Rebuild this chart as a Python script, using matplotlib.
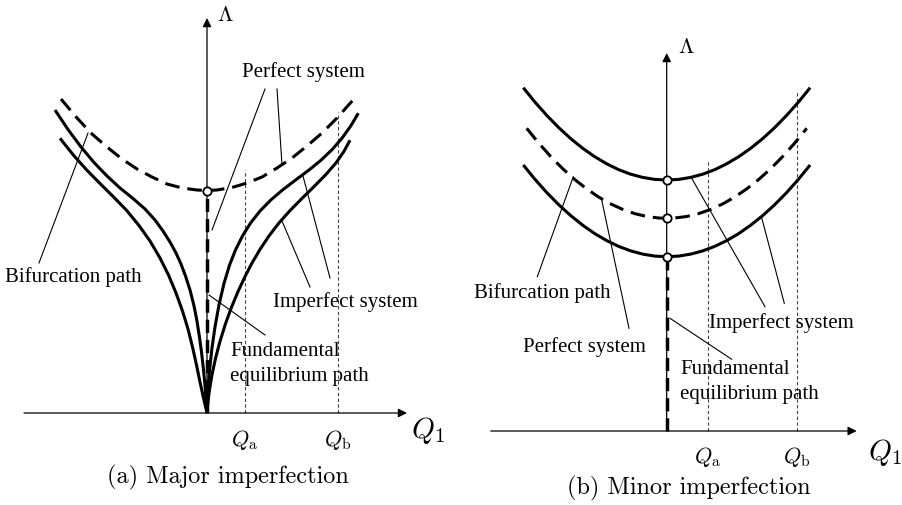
import matplotlib
matplotlib.use("Agg")
import matplotlib.pyplot as plt

# ---------------- Panel (a): major imperfection ----------------
# Perfect system bifurcation path (Q1, Lambda)
a_perfect_q = [-146, -130, -115, -100, -85, -70, -55, -40, -25, -10, 0,
               10, 25, 40, 55, 70, 85, 100, 115, 130, 146]
a_perfect_l = [314, 295, 279, 266, 254, 244, 236, 229, 225, 223, 222.5,
               223, 225.5, 230, 236, 245, 255, 267, 280, 295, 313]
a_critical = 222.5

# Imperfect system, upper branch pair
a_imp1_left_q = [-152, -139, -126, -113, -100, -87, -74, -62, -52, -44, -37, -31, -26,
                 -21.5, -17, -13.2, -10.2, -7.7, -5.5, -3.7, -2.1, -1, 0]
a_imp1_left_l = [303, 283.5, 266, 250.5, 237, 225, 214.5, 204, 193, 182, 171, 160, 149,
                 137, 123, 108, 93, 77, 61, 45, 29, 14, 0]
a_imp1_right_q = [0, 0.4, 1.3, 2.8, 5, 8, 12, 17, 22.5, 28.5, 35.5, 43.5, 53, 64, 76,
                  89, 102, 114, 125, 135, 144, 151.3]
a_imp1_right_l = [0, 12, 27.3, 45.3, 65.1, 86.1, 108.1, 129.6, 147.8, 163.1, 177.1, 189.9,
                  202, 213.2, 223.4, 233.3, 243, 252.8, 263.3, 274.8, 287.4, 299.8]

# Imperfect system, lower branch pair
a_imp2_left_q = [-147, -133.7, -120.3, -107, -93.7, -80.3, -68, -57, -47, -38.5, -31,
                 -24.5, -19, -14.5, -10.5, -7, -3.5, 0]
a_imp2_left_l = [274.7, 258, 243, 229.5, 216.3, 202.5, 187.5, 172, 155, 138, 120,
                 102, 84, 66, 48, 31, 15, 0]
a_imp2_right_q = [0, 0.8, 2.5, 5, 8.5, 13, 18.5, 24.5, 31, 38, 45, 53, 62, 72, 83,
                  95, 107, 119, 129, 137, 143]
a_imp2_right_l = [0, 9.6, 23.2, 38.2, 54.6, 71.7, 89.3, 105.8, 121.4, 136.4, 150, 163.6,
                  177.1, 190.1, 202.4, 214.6, 226.4, 238.6, 250.1, 261.7, 272.8]

a_qa, a_qa_top = 38, 243
a_qb, a_qb_top = 131, 301

# ---------------- Panel (b): minor imperfection ----------------
b_perfect_q = [-140, -128, -116, -104, -92, -80, -68, -56, -44, -32, -20, -8, 0,
               8, 20, 32, 44, 56, 68, 80, 92, 104, 116, 128, 140]
b_perfect_l = [302.7, 287.9, 274.5, 262.3, 251.5, 242.1, 233.9, 227.1, 221.6, 217.4, 214.5, 213, 212.7,
               213, 214.5, 217.4, 221.6, 227.1, 233.9, 242.1, 251.5, 262.3, 274.5, 287.9, 302.7]

b_upper_q = [-143.4, -132, -120, -108, -96, -84, -72, -60, -48, -36, -24, -12, 0,
             12, 24, 36, 48, 60, 72, 84, 96, 108, 120, 132, 143.4]
b_upper_l = [343.3, 329.2, 315.7, 303.4, 292.4, 282.7, 274.3, 267.2, 261.3, 256.8, 253.6, 251.6, 251,
             251.6, 253.6, 256.8, 261.3, 267.2, 274.3, 282.7, 292.4, 303.4, 315.7, 329.2, 343.3]

b_lower_q = [-143.4, -132, -120, -108, -96, -84, -72, -60, -48, -36, -24, -12, 0,
             12, 24, 36, 48, 60, 72, 84, 96, 108, 120, 132, 143.4]
b_lower_l = [266, 252, 238.5, 226.3, 215.4, 205.8, 197.4, 190.4, 184.6, 180.1, 176.9, 174.9, 174.3,
             174.9, 176.9, 180.1, 184.6, 190.4, 197.4, 205.8, 215.4, 226.3, 238.5, 252, 266]

b_critical = [251, 212.7, 174.3]
b_qa, b_qa_top = 41, 270
b_qb, b_qb_top = 130, 339

SERIF = ["Liberation Serif", "DejaVu Serif"]
TXT = 15
LW = 2.2
DASH = (4.8, 2.6)
VDASH = (3.8, 2.0)

fig = plt.figure(figsize=(9.02, 5.05), dpi=100)
fig.patch.set_facecolor("white")

ax_a = fig.add_axes([0, 0, 0.5, 1])
ax_a.set_xlim(-207, 244)
ax_a.set_ylim(-92, 413)
ax_b = fig.add_axes([0.5, 0, 0.5, 1])
ax_b.set_xlim(-215.7, 235.3)
ax_b.set_ylim(-74, 431)
for ax in (ax_a, ax_b):
    ax.axis("off")


def axes_arrows(ax, x0, x1, ytop):
    kw = dict(arrowstyle="-|>", lw=0.9, color="black", mutation_scale=13,
              shrinkA=0, shrinkB=0)
    ax.annotate("", xy=(x1, 0), xytext=(x0, 0), arrowprops=kw)
    ax.annotate("", xy=(0, ytop), xytext=(0, 0), arrowprops=kw)


def guide(ax, q, top):
    ax.plot([q, q], [0, top], color="#444444", lw=0.8, ls=(0, (3, 2.2)))


def leader(ax, p0, p1):
    ax.plot([p0[0], p1[0]], [p0[1], p1[1]], color="black", lw=0.8)


def label(ax, x, y, s):
    ax.text(x, y, s, family=SERIF, fontsize=TXT, ha="left", va="center")


def dashed(ax, q, l, lw=LW, pattern=DASH):
    ln, = ax.plot(q, l, color="black", lw=lw)
    ln.set_dashes(pattern)
    ln.set_dash_capstyle("butt")
    ln.set_dash_joinstyle("round")
    return ln


def solid(ax, q, l):
    ax.plot(q, l, color="black", lw=LW, solid_joinstyle="round", solid_capstyle="butt")


# ----- panel (a) -----
axes_arrows(ax_a, -183, 200, 395)
guide(ax_a, a_qa, a_qa_top)
guide(ax_a, a_qb, a_qb_top)
dashed(ax_a, [0, 0], [0, a_critical], lw=2.5, pattern=VDASH)
dashed(ax_a, a_perfect_q, a_perfect_l)
for q, l in [(a_imp1_left_q, a_imp1_left_l), (a_imp1_right_q, a_imp1_right_l),
             (a_imp2_left_q, a_imp2_left_l), (a_imp2_right_q, a_imp2_right_l)]:
    solid(ax_a, q, l)
ax_a.plot([0], [a_critical], "o", ms=6, mfc="white", mec="black", mew=1.3, zorder=5)

leader(ax_a, (58, 324), (5, 183))
leader(ax_a, (70, 324), (75, 248))
leader(ax_a, (-168, 150), (-119, 280))
leader(ax_a, (103, 126), (75, 192))
leader(ax_a, (123, 135), (96, 237))
leader(ax_a, (58, 78), (2, 118))

label(ax_a, 35, 341, "Perfect system")
label(ax_a, -202, 136, "Bifurcation path")
label(ax_a, 66, 111, "Imperfect system")
label(ax_a, 23, 61, "Fundamental")
label(ax_a, 23, 36, "equilibrium path")

ax_a.text(18, 398, r"$\Lambda$", math_fontfamily="cm", fontsize=16, ha="center", va="center")
ax_a.text(221, -18, r"$Q_1$", math_fontfamily="cm", fontsize=21, ha="center", va="center")
ax_a.text(a_qa, -27, r"$Q_{\mathrm{a}}$", math_fontfamily="cm", fontsize=16, ha="center", va="center")
ax_a.text(a_qb, -27, r"$Q_{\mathrm{b}}$", math_fontfamily="cm", fontsize=16, ha="center", va="center")
ax_a.text(21, -64, "(a) Major imperfection", family="cmr10", fontsize=17.5, ha="center", va="center")

# ----- panel (b) -----
axes_arrows(ax_b, -176, 190, 378)
guide(ax_b, b_qa, b_qa_top)
guide(ax_b, b_qb, b_qb_top)
dashed(ax_b, [0, 0], [0, b_critical[2]], lw=2.5, pattern=VDASH)
dashed(ax_b, b_perfect_q, b_perfect_l)
solid(ax_b, b_upper_q, b_upper_l)
solid(ax_b, b_lower_q, b_lower_l)
ax_b.plot([0] * len(b_critical), b_critical, "o", ls="none", ms=6, mfc="white",
          mec="black", mew=1.3, zorder=5)

leader(ax_b, (-129.4, 154.3), (-93.4, 254.3))
leader(ax_b, (-37.7, 102.7), (-65, 231))
leader(ax_b, (98.3, 124.3), (25, 252.7))
leader(ax_b, (117.6, 127.7), (95, 213.3))
leader(ax_b, (65, 71.7), (3.3, 112.7))

label(ax_b, -192.7, 138.3, "Bifurcation path")
label(ax_b, -144, 84.3, "Perfect system")
label(ax_b, 42.6, 107.7, "Imperfect system")
label(ax_b, 13.3, 61, "Fundamental")
label(ax_b, 13.3, 36, "equilibrium path")

ax_b.text(20, 384, r"$\Lambda$", math_fontfamily="cm", fontsize=16, ha="center", va="center")
ax_b.text(218.3, -21, r"$Q_1$", math_fontfamily="cm", fontsize=21, ha="center", va="center")
ax_b.text(b_qa, -26, r"$Q_{\mathrm{a}}$", math_fontfamily="cm", fontsize=16, ha="center", va="center")
ax_b.text(b_qb, -26, r"$Q_{\mathrm{b}}$", math_fontfamily="cm", fontsize=16, ha="center", va="center")
ax_b.text(22.3, -57, "(b) Minor imperfection", family="cmr10", fontsize=17.5, ha="center", va="center")

fig.savefig("out.png", dpi=100, facecolor="white")
